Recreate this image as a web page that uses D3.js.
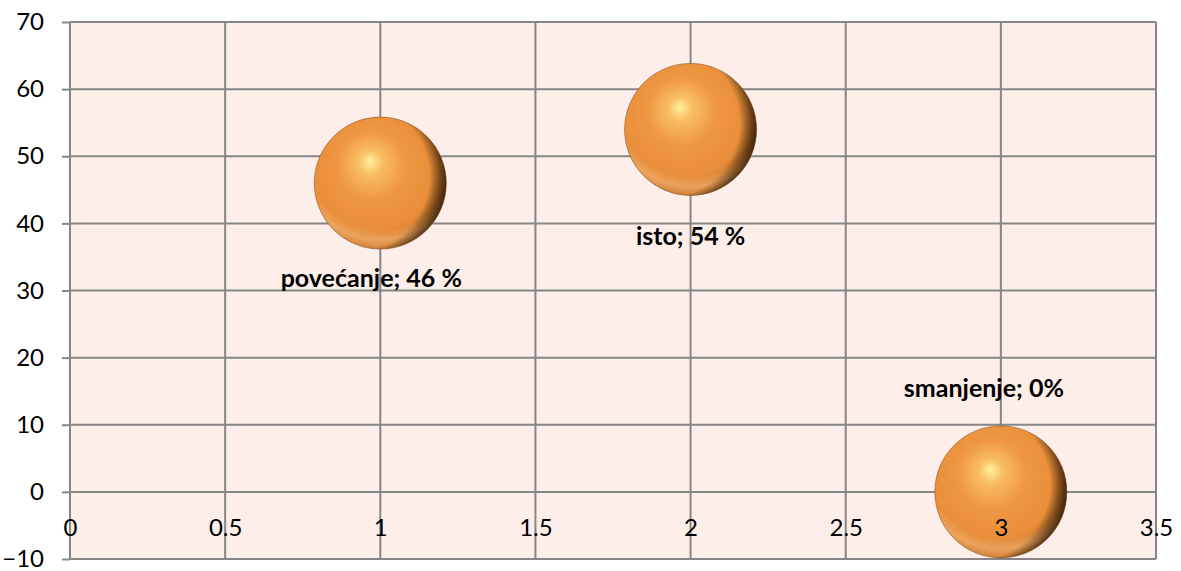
<!DOCTYPE html>
<html>
<head>
<meta charset="utf-8">
<script src="https://cdn.jsdelivr.net/npm/d3@7"></script>
<style>
  body { margin: 0; background: #fff; }
  text { font-family: Lato, "Noto Sans", sans-serif; }
</style>
</head>
<body>
<script>
let width = 1181;
let height = 571;

// data
let categories = ["povećanje", "isto", "smanjenje"];
let xValues = [1, 2, 3];
let yValues = [46, 54, 0];
let labels = ["povećanje; 46 %", "isto; 54 %", "smanjenje; 0%"];
let xTicks = [0, 0.5, 1, 1.5, 2, 2.5, 3, 3.5];
let yTicks = [-10, 0, 10, 20, 30, 40, 50, 60, 70];

let plotLeft = 70;
let plotRight = 1156;
let plotTop = 22;
let plotBottom = 559;

let gridColor = "#868686";
let plotColor = "#fdeee9";
let bubbleRadius = 66;

let svg = d3
  .select("body")
  .append("svg")
  .attr("width", width)
  .attr("height", height);

let x = d3.scaleLinear().domain([0, 3.5]).range([plotLeft, plotRight]);
let y = d3.scaleLinear().domain([-10, 70]).range([plotBottom, plotTop]);

let defs = svg.append("defs");

function addRadial(id, cx, cy, r, fx, fy, stops) {
  let g = defs
    .append("radialGradient")
    .attr("id", id)
    .attr("cx", cx)
    .attr("cy", cy)
    .attr("r", r)
    .attr("fx", fx)
    .attr("fy", fy);
  stops.forEach(function(s) {
    g.append("stop")
      .attr("offset", s[0])
      .attr("stop-color", s[1])
      .attr("stop-opacity", s[2]);
  });
}

// base colour with the highlight up left
addRadial("sphere", 0.45, 0.42, 0.62, 0.42, 0.33, [
  [0, "#fff09c", 1],
  [0.15, "#f9bd62", 1],
  [0.42, "#ef9742", 1],
  [0.75, "#e98e3a", 1],
  [0.92, "#c8742a", 1],
  [1, "#8a4e16", 1]
]);
// light band along the bottom
addRadial("reflect", 0.5, 0.3, 0.7, 0.5, 0.3, [
  [0, "#f8c080", 0],
  [0.8, "#f8c080", 0],
  [0.9, "#f7bb7a", 0.6],
  [1, "#f0a860", 0.3]
]);
// shade on the right edge
addRadial("shade", 0.3, 0.45, 0.75, 0.3, 0.45, [
  [0, "#1e1204", 0],
  [0.76, "#1e1204", 0],
  [0.88, "#2a1806", 0.6],
  [1, "#0e0802", 1]
]);

svg
  .append("rect")
  .attr("x", plotLeft)
  .attr("y", plotTop)
  .attr("width", plotRight - plotLeft)
  .attr("height", plotBottom - plotTop)
  .attr("fill", plotColor);

// gridlines
svg
  .append("g")
  .selectAll("line")
  .data(yTicks)
  .enter()
  .append("line")
  .attr("x1", plotLeft)
  .attr("x2", plotRight)
  .attr("y1", function(d) {
    return y(d);
  })
  .attr("y2", function(d) {
    return y(d);
  })
  .attr("stroke", gridColor)
  .attr("stroke-width", 2);

svg
  .append("g")
  .selectAll("line")
  .data(xTicks)
  .enter()
  .append("line")
  .attr("x1", function(d) {
    return x(d);
  })
  .attr("x2", function(d) {
    return x(d);
  })
  .attr("y1", plotTop)
  .attr("y2", plotBottom)
  .attr("stroke", gridColor)
  .attr("stroke-width", 2);

// bubbles
let points = xValues.map(function(d, i) {
  return { x: d, y: yValues[i], label: labels[i], name: categories[i] };
});

let bubbles = svg
  .append("g")
  .selectAll("g")
  .data(points)
  .enter()
  .append("g")
  .attr("transform", function(d) {
    return "translate(" + x(d.x) + "," + y(d.y) + ")";
  });
bubbles
  .append("circle")
  .attr("r", bubbleRadius)
  .attr("fill", "url(#sphere)");
bubbles
  .append("circle")
  .attr("r", bubbleRadius)
  .attr("fill", "url(#reflect)");
bubbles
  .append("circle")
  .attr("r", bubbleRadius)
  .attr("fill", "url(#shade)")
  .attr("stroke", "rgba(120,70,20,0.5)")
  .attr("stroke-width", 1);

// data labels: below for the first two, above for the last
let labelOffsets = [
  [-9, 104],
  [0, 116],
  [-17, -95]
];
svg
  .append("g")
  .selectAll("text")
  .data(points)
  .enter()
  .append("text")
  .attr("x", function(d, i) {
    return x(d.x) + labelOffsets[i][0];
  })
  .attr("y", function(d, i) {
    return y(d.y) + labelOffsets[i][1];
  })
  .attr("text-anchor", "middle")
  .attr("font-size", 25)
  .attr("font-weight", "bold")
  .attr("fill", "#000")
  .text(function(d) {
    return d.label;
  });

// axes
let yAxis = svg
  .append("g")
  .attr("transform", "translate(" + plotLeft + ",0)")
  .call(
    d3
      .axisLeft(y)
      .tickValues(yTicks)
      .tickSize(8)
      .tickPadding(18)
      .tickFormat(d3.format("d"))
  );
yAxis.select(".domain").remove();
yAxis
  .selectAll(".tick line")
  .attr("stroke", gridColor)
  .attr("stroke-width", 2);
yAxis
  .selectAll("text")
  .attr("font-size", 24)
  .attr("font-family", "Lato, sans-serif")
  .attr("fill", "#000");

let xAxis = svg
  .append("g")
  .attr("transform", "translate(0," + y(0) + ")")
  .call(
    d3
      .axisBottom(x)
      .tickValues(xTicks)
      .tickSize(0)
      .tickPadding(27)
      .tickFormat(d3.format(""))
  );
xAxis.select(".domain").remove();
xAxis
  .selectAll("text")
  .attr("font-size", 24)
  .attr("font-family", "Lato, sans-serif")
  .attr("fill", "#000");
</script>
</body>
</html>
